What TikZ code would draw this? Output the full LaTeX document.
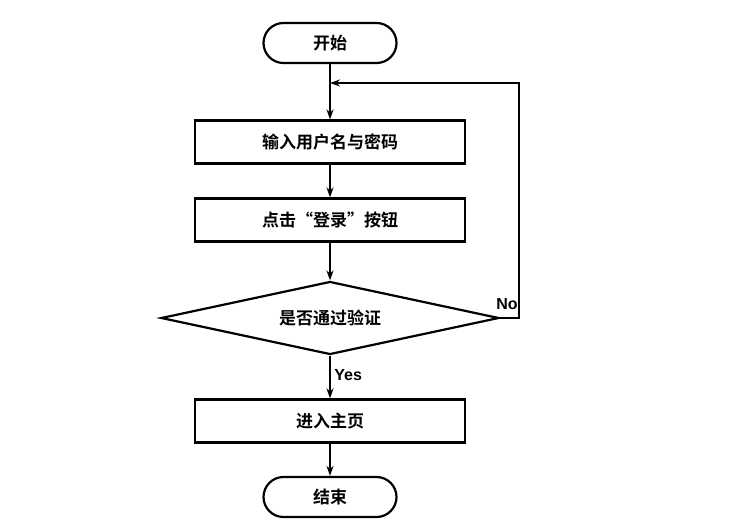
\documentclass[tikz,border=0pt]{standalone}
\usepackage{fontspec}
\newfontfamily\cjk{Noto Sans CJK SC Bold}
\setmainfont{Liberation Sans}
\usetikzlibrary{shapes.geometric,arrows.meta}
\begin{document}
\begin{tikzpicture}[x=1pt,y=-1pt,
  every node/.style={font=\cjk\fontsize{17}{19}\selectfont},
  lab/.style={font=\bfseries\fontsize{16}{18}\selectfont},
  ln/.style={line width=2.2pt},
  box/.style={draw,ln,minimum width=270pt,minimum height=43pt,inner sep=0},
  term/.style={draw,ln,rounded corners=20pt,minimum width=133pt,minimum height=40pt,inner sep=0},
  arr/.style={ln,-{Stealth[length=10pt,width=7pt]}}]
\useasboundingbox (0,0) rectangle (746,525);
\node[term] (s) at (330,43) {开始};
\node[box] (b1) at (330,142) {输入用户名与密码};
\node[box] (b2) at (330,220) {点击“登录”按钮};
\node[draw,ln,diamond,aspect=4.6,minimum width=338pt,minimum height=73pt,inner sep=0] (d) at (330,318) {是否通过验证};
\node[box] (b3) at (330,421) {进入主页};
\node[term] (e) at (330,497) {结束};
\coordinate (j) at (330,83);
\draw[arr] (s) -- (b1);
\draw[arr] (b1) -- (b2);
\draw[arr] (b2) -- (d);
\draw[arr] (d) -- node[right,lab,pos=0.45]{Yes} (b3);
\draw[arr] (b3) -- (e);
\draw[arr] (d.east) -- (519,318) -- (519,83) -- (j);
\node[lab] (no) at (507,304) {No};
\end{tikzpicture}
\end{document}
